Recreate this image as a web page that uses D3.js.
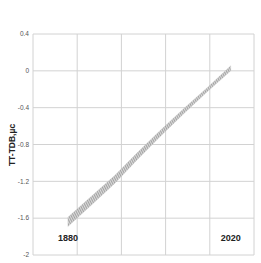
<!DOCTYPE html>
<html>
<head>
<meta charset="utf-8">
<script src="https://cdn.jsdelivr.net/npm/d3@7"></script>
<style>
  html, body { margin: 0; padding: 0; background: #fff; }
  #chart { width: 261px; height: 263px; }
</style>
</head>
<body>
<div id="chart"></div>
<script>
// values
const years = [1880, 1900, 1920, 1940, 1960, 1980, 2000, 2020];
const lower = [-1.69, -1.46, -1.225, -0.96, -0.705, -0.46, -0.225, 0.0];
const upper = [-1.59, -1.365, -1.14, -0.885, -0.64, -0.405, -0.18, 0.055];
const yTicks = [0.4, 0, -0.4, -0.8, -1.2, -1.6, -2];
const xGrid = [1850, 1888, 1926, 1964, 2002, 2040];
const marks = ["1880", "2020"];

const width = 261;
const height = 263;
const margin = { top: 34, right: 7, bottom: 8, left: 33 };

const svg = d3.select("#chart").append("svg")
  .attr("width", width)
  .attr("height", height);

const x = d3.scaleLinear().domain([1850, 2040]).range([margin.left, width - margin.right]);
const y = d3.scaleLinear().domain([-2, 0.4]).range([height - margin.bottom, margin.top]);

const defs = svg.append("defs");
const hatch = defs.append("pattern")
  .attr("id", "hatch")
  .attr("patternUnits", "userSpaceOnUse")
  .attr("width", 1.6)
  .attr("height", 1.6)
  .attr("patternTransform", "rotate(20)");
hatch.append("rect").attr("width", 1.6).attr("height", 1.6).attr("fill", "#dcdcdc");
hatch.append("line")
  .attr("x1", 0.4).attr("y1", 0).attr("x2", 0.4).attr("y2", 1.6)
  .attr("stroke", "#999").attr("stroke-width", 0.7);

// grid
const grid = svg.append("g").attr("class", "grid");
grid.selectAll(".hl")
  .data(yTicks)
  .enter()
  .append("line")
  .attr("x1", x.range()[0]).attr("x2", x.range()[1])
  .attr("y1", d => y(d)).attr("y2", d => y(d))
  .attr("stroke", "#d2d2d2")
  .attr("stroke-width", 1);
grid.selectAll(".vl")
  .data(xGrid)
  .enter()
  .append("line")
  .attr("x1", d => x(d)).attr("x2", d => x(d))
  .attr("y1", y.range()[0]).attr("y2", y.range()[1])
  .attr("stroke", "#d2d2d2")
  .attr("stroke-width", 1);

// y tick labels
svg.append("g")
  .selectAll("text")
  .data(yTicks)
  .enter()
  .append("text")
  .attr("x", margin.left - 4)
  .attr("y", d => y(d))
  .attr("dy", "0.35em")
  .attr("text-anchor", "end")
  .attr("font-family", "Liberation Sans, Arial, sans-serif")
  .attr("font-size", 6.5)
  .attr("fill", "#555")
  .text(d => d);

// band
const band = years.map((yr, i) => ({ yr, lo: lower[i], hi: upper[i] }));
const area = d3.area()
  .x(d => x(d.yr))
  .y0(d => y(d.lo))
  .y1(d => y(d.hi));
svg.append("path")
  .datum(band)
  .attr("d", area)
  .attr("fill", "url(#hatch)")
  .attr("stroke", "#bbb")
  .attr("stroke-width", 0.3);

// year marks
svg.append("g")
  .selectAll("text")
  .data(marks)
  .enter()
  .append("text")
  .attr("x", d => x(+d))
  .attr("y", 241)
  .attr("text-anchor", "middle")
  .attr("font-family", "Liberation Sans, Arial, sans-serif")
  .attr("font-weight", "bold")
  .attr("font-size", 9)
  .attr("fill", "#222")
  .text(d => d);

// axis title
svg.append("text")
  .attr("transform", "translate(15,145) rotate(-90)")
  .attr("text-anchor", "middle")
  .attr("font-family", "Liberation Sans, Arial, sans-serif")
  .attr("font-weight", "bold")
  .attr("font-size", 8.5)
  .attr("fill", "#222")
  .text("TT-TDB,µс");
</script>
</body>
</html>
